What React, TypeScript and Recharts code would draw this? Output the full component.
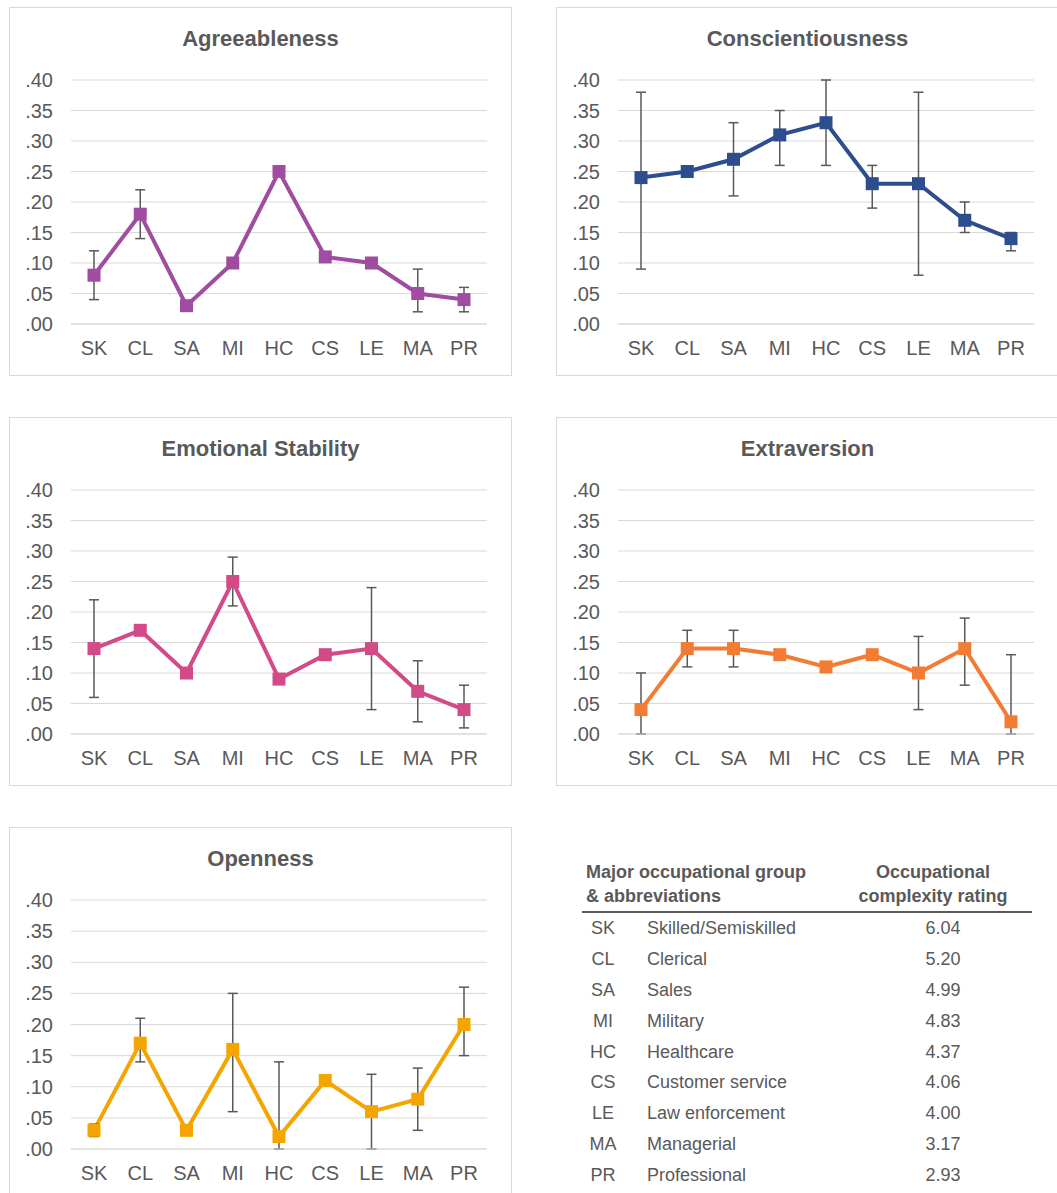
import React from 'react';
import { LineChart, Line, XAxis, YAxis, CartesianGrid, ErrorBar } from 'recharts';

const groups = ['SK', 'CL', 'SA', 'MI', 'HC', 'CS', 'LE', 'MA', 'PR'];
const yTicks = [0, 0.05, 0.1, 0.15, 0.2, 0.25, 0.3, 0.35, 0.4];

// point estimates + [lower, upper] interval bounds (null = no bar drawn)
const agreeValues = [0.08, 0.18, 0.03, 0.1, 0.25, 0.11, 0.1, 0.05, 0.04];
const agreeLow = [0.04, 0.14, null, null, null, null, null, 0.02, 0.02];
const agreeHigh = [0.12, 0.22, null, null, null, null, null, 0.09, 0.06];

const conscValues = [0.24, 0.25, 0.27, 0.31, 0.33, 0.23, 0.23, 0.17, 0.14];
const conscLow = [0.09, null, 0.21, 0.26, 0.26, 0.19, 0.08, 0.15, 0.12];
const conscHigh = [0.38, null, 0.33, 0.35, 0.4, 0.26, 0.38, 0.2, 0.15];

const emoValues = [0.14, 0.17, 0.1, 0.25, 0.09, 0.13, 0.14, 0.07, 0.04];
const emoLow = [0.06, null, null, 0.21, null, null, 0.04, 0.02, 0.01];
const emoHigh = [0.22, null, null, 0.29, null, null, 0.24, 0.12, 0.08];

const extraValues = [0.04, 0.14, 0.14, 0.13, 0.11, 0.13, 0.1, 0.14, 0.02];
const extraLow = [0.0, 0.11, 0.11, null, null, null, 0.04, 0.08, 0.0];
const extraHigh = [0.1, 0.17, 0.17, null, null, null, 0.16, 0.19, 0.13];

const openValues = [0.03, 0.17, 0.03, 0.16, 0.02, 0.11, 0.06, 0.08, 0.2];
const openLow = [0.02, 0.14, null, 0.06, 0.0, null, 0.0, 0.03, 0.15];
const openHigh = [0.04, 0.21, null, 0.25, 0.14, null, 0.12, 0.13, 0.26];

const groupNames = [
  'Skilled/Semiskilled',
  'Clerical',
  'Sales',
  'Military',
  'Healthcare',
  'Customer service',
  'Law enforcement',
  'Managerial',
  'Professional',
];
const complexity = ['6.04', '5.20', '4.99', '4.83', '4.37', '4.06', '4.00', '3.17', '2.93'];

const FONT = '"Liberation Sans", Arial, sans-serif';
const TEXT = '#595959';

const buildRows = (vals: number[], lo: (number | null)[], hi: (number | null)[]) =>
  groups.map((g, i) => ({
    group: g,
    value: vals[i],
    err: lo[i] == null || hi[i] == null ? [0, 0] : [vals[i] - (lo[i] as number), (hi[i] as number) - vals[i]],
  }));

const fmt = (v: number) => v.toFixed(2).replace(/^0/, '');

const SquareDot = (color: string) => (props: any) => {
  const { cx, cy, index } = props;
  if (cx == null || cy == null) return <g key={index} />;
  return <rect key={index} x={cx - 6.5} y={cy - 6.5} width={13} height={13} fill={color} />;
};

interface PanelProps {
  title: string;
  color: string;
  left: number;
  top: number;
  height?: number;
  rows: ReturnType<typeof buildRows>;
}

const Panel: React.FC<PanelProps> = ({ title, color, left, top, height = 369, rows }) => {
  const width = 503;
  return (
    <div
      style={{
        position: 'absolute',
        left,
        top,
        width,
        height,
        border: '1px solid #d9d9d9',
        boxSizing: 'border-box',
        background: '#fff',
      }}
    >
      <div
        style={{
          position: 'absolute',
          top: 18,
          left: 0,
          width: '100%',
          textAlign: 'center',
          fontFamily: FONT,
          fontWeight: 'bold',
          fontSize: 22,
          color: TEXT,
        }}
      >
        {title}
      </div>
      <LineChart width={width - 2} height={height - 2} data={rows} margin={{ top: 72, right: 24, bottom: 21, left: 0 }}>
        <CartesianGrid stroke="#d9d9d9" vertical={false} />
        <XAxis
          dataKey="group"
          axisLine={{ stroke: '#d9d9d9' }}
          tickLine={false}
          tickMargin={11}
          height={30}
          padding={{ left: 23, right: 23 }}
          interval={0}
          tick={{ fill: TEXT, fontSize: 20, fontFamily: FONT }}
        />
        <YAxis
          domain={[0, 0.4]}
          ticks={yTicks}
          tickFormatter={fmt}
          axisLine={false}
          tickLine={false}
          tickMargin={12}
          width={61}
          tick={{ fill: TEXT, fontSize: 20, fontFamily: FONT }}
        />
        <Line
          dataKey="value"
          stroke={color}
          strokeWidth={4}
          dot={SquareDot(color)}
          activeDot={false}
          isAnimationActive={false}
        />
        <Line dataKey="value" stroke="none" dot={false} activeDot={false} isAnimationActive={false}>
          <ErrorBar dataKey="err" direction="y" width={5} stroke="#595959" strokeWidth={1.5} />
        </Line>
      </LineChart>
    </div>
  );
};

const Table: React.FC = () => (
  <div style={{ position: 'absolute', left: 582, top: 859, width: 450, fontFamily: FONT, color: TEXT }}>
    <div style={{ position: 'relative', height: 52, borderBottom: '2px solid #595959', fontWeight: 'bold', fontSize: 18 }}>
      <div style={{ position: 'absolute', left: 4, top: 1, lineHeight: '24px' }}>
        Major occupational group
        <br />
        &amp; abbreviations
      </div>
      <div style={{ position: 'absolute', left: 262, width: 178, top: 1, lineHeight: '24px', textAlign: 'center' }}>
        Occupational
        <br />
        complexity rating
      </div>
    </div>
    {groups.map((g, i) => (
      <div key={g} style={{ position: 'relative', height: 30.9, fontSize: 18, lineHeight: '30.9px' }}>
        <span style={{ position: 'absolute', left: 0, width: 42, textAlign: 'center' }}>{g}</span>
        <span style={{ position: 'absolute', left: 65 }}>{groupNames[i]}</span>
        <span style={{ position: 'absolute', left: 311, width: 100, textAlign: 'center' }}>{complexity[i]}</span>
      </div>
    ))}
  </div>
);

export default function App() {
  return (
    <div
      style={{
        position: 'absolute',
        left: 0,
        top: 0,
        width: 1057,
        height: 1193,
        overflow: 'hidden',
        background: '#fff',
      }}
    >
      <Panel title="Agreeableness" color="#a04ca0" left={9} top={7} rows={buildRows(agreeValues, agreeLow, agreeHigh)} />
      <Panel title="Conscientiousness" color="#2e4d8f" left={556} top={7} rows={buildRows(conscValues, conscLow, conscHigh)} />
      <Panel title="Emotional Stability" color="#d24a87" left={9} top={417} rows={buildRows(emoValues, emoLow, emoHigh)} />
      <Panel title="Extraversion" color="#f37c35" left={556} top={417} rows={buildRows(extraValues, extraLow, extraHigh)} />
      <Panel title="Openness" color="#f5a500" left={9} top={827} height={374} rows={buildRows(openValues, openLow, openHigh)} />
      <Table />
    </div>
  );
}
